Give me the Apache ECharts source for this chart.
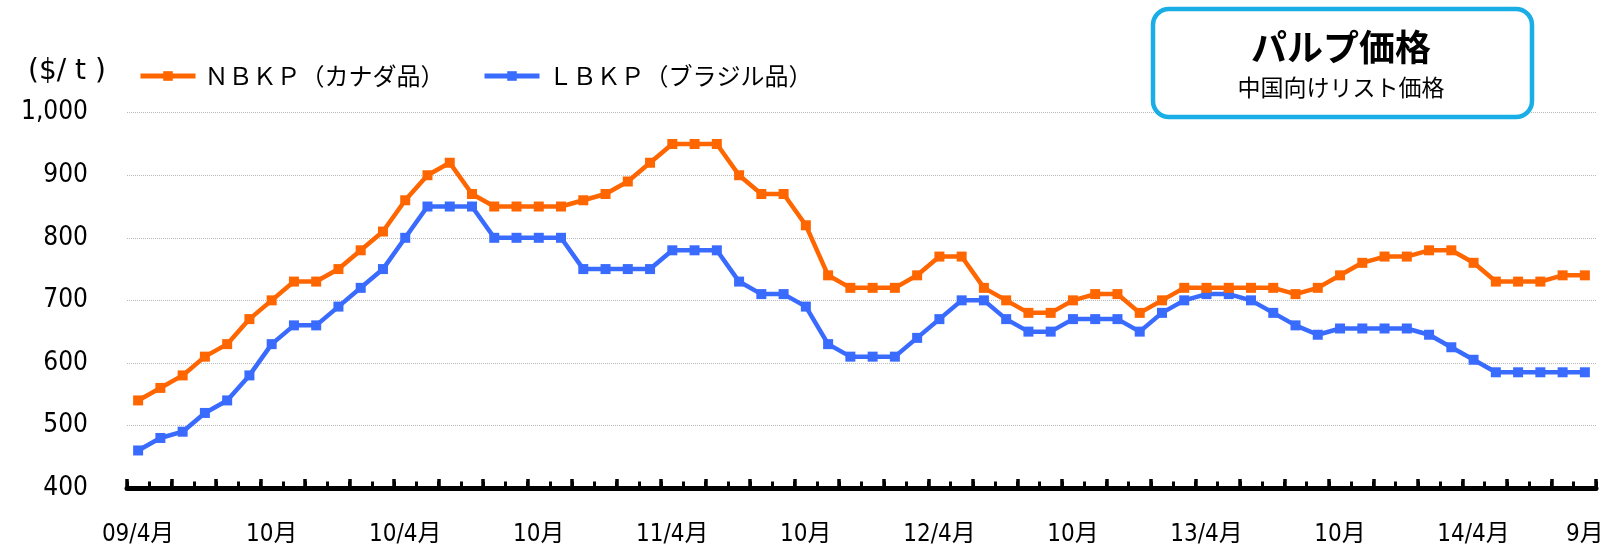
<!DOCTYPE html>
<html>
<head>
<meta charset="utf-8">
<script src="https://cdn.jsdelivr.net/npm/echarts@6/dist/echarts.min.js"></script>
<style>
html,body{margin:0;padding:0;background:#fff;}
#chart{width:1619px;height:549px;}
</style>
</head>
<body>
<div id="chart"></div>
<script>
const categories = [
 '09/04','09/05','09/06','09/07','09/08','09/09','09/10','09/11','09/12',
 '10/01','10/02','10/03','10/04','10/05','10/06','10/07','10/08','10/09','10/10','10/11','10/12',
 '11/01','11/02','11/03','11/04','11/05','11/06','11/07','11/08','11/09','11/10','11/11','11/12',
 '12/01','12/02','12/03','12/04','12/05','12/06','12/07','12/08','12/09','12/10','12/11','12/12',
 '13/01','13/02','13/03','13/04','13/05','13/06','13/07','13/08','13/09','13/10','13/11','13/12',
 '14/01','14/02','14/03','14/04','14/05','14/06','14/07','14/08','14/09'
];
const nbkp = [540,560,580,610,630,670,700,730,730,750,780,810,
  860,900,920,870,850,850,
  850,850,860,870,890,920,950,950,950,900,870,870,820,740,720,720,720,740,770,770,720,700,680,680,700,710,
  710,680,700,720,720,720,720,720,710,720,740,760,770,770,780,780,760,730,730,730,740,740];
const lbkp = [460,480,490,520,540,580,630,660,660,690,720,750,800,
  850,850,850,800,800,
  800,800,750,750,750,750,780,780,780,730,710,710,690,630,610,610,610,640,670,700,700,670,650,650,670,670,
  670,650,680,700,710,710,700,680,660,645,655,655,655,655,645,625,605,585,585,585,585,585];
const tickIndex = [0,6,12,18,24,30,36,42,48,54,60,65];
const tickLabels = ['09/4月','10月','10/4月','10月','11/4月','10月','12/4月','10月','13/4月','10月','14/4月','9月'];
const yTicks = {min:400, max:1000, interval:100};
const seriesNames = ['ＮＢＫＰ（カナダ品）','ＬＢＫＰ（ブラジル品）'];
const unitLabel = '($/ t )';
const titleMain = 'パルプ価格';
const titleSub = '中国向けリスト価格';

const ORANGE = '#FF6600';
const BLUE = '#3A6BFF';
const NUMFONT = "'DejaVu Sans Condensed', 'DejaVu Sans', 'Noto Sans CJK JP', sans-serif";
const JPFONT = "'Noto Sans CJK JP', sans-serif";

const chart = echarts.init(document.getElementById('chart'), null, {renderer:'canvas'});
const labelMap = {};
tickIndex.forEach((idx, k) => { labelMap[idx] = tickLabels[k]; });

function legendFor(name, left) {
  return {
    data:[name], left:left, top:64, padding:0, itemWidth:55, itemHeight:12, itemGap:0,
    lineStyle:{width:5},
    textStyle:{fontFamily:JPFONT, fontSize:24, color:'#000', padding:[0,0,0,4]}
  };
}

const option = {
  animation: false,
  backgroundColor: '#fff',
  grid: {left:127, right:23, top:112.7, bottom:61, containLabel:false},
  legend: [legendFor(seriesNames[0], 138), legendFor(seriesNames[1], 482)],
  xAxis: [
    {
      type:'category', data:categories, boundaryGap:true, position:'bottom',
      axisLine:{show:true, lineStyle:{color:'#000', width:5}},
      axisTick:{show:true, interval:0, inside:true, length:6.5, lineStyle:{color:'#000', width:3}},
      axisLabel:{
        show:true, interval:(i)=> labelMap[i] !== undefined,
        formatter:(v, i)=> labelMap[i] !== undefined ? labelMap[i] : '',
        margin:35, fontFamily:NUMFONT, fontSize:24, color:'#000'
      },
      splitLine:{show:false}
    },
    {
      type:'category', data:categories, boundaryGap:true, position:'bottom', gridIndex:0,
      axisLine:{show:false},
      axisTick:{show:true, interval:1, inside:true, length:9, lineStyle:{color:'#000', width:3.5}},
      axisLabel:{show:false},
      splitLine:{show:false}
    }
  ],
  yAxis: {
    type:'value', min:yTicks.min, max:yTicks.max, interval:yTicks.interval,
    axisLine:{show:false}, axisTick:{show:false},
    axisLabel:{
      margin:39, fontFamily:NUMFONT, fontSize:26, color:'#000',
      padding:[0,0,8,0],
      formatter:(v)=> v.toLocaleString('en-US')
    },
    splitLine:{show:true, lineStyle:{color:'#b8b8b8', width:1, type:'dotted'}}
  },
  series: [
    {name:seriesNames[0], type:'line', data:nbkp, xAxisIndex:0,
     symbol:'rect', symbolSize:10, showAllSymbol:true,
     lineStyle:{color:ORANGE, width:4.5}, itemStyle:{color:ORANGE}, z:3},
    {name:seriesNames[1], type:'line', data:lbkp, xAxisIndex:0,
     symbol:'rect', symbolSize:10, showAllSymbol:true,
     lineStyle:{color:BLUE, width:4.5}, itemStyle:{color:BLUE}, z:2}
  ],
  graphic: [
    {type:'text', left:28, top:58, z:10,
     style:{text:unitLabel, font:"28px 'DejaVu Sans', sans-serif", fill:'#000'}},
    {type:'rect', shape:{x:1153, y:9, width:379, height:108, r:16}, z:10,
     style:{fill:'#fff', stroke:'#1AAEE6', lineWidth:4.5}},
    {type:'text', x:1341, y:47, z:11,
     style:{text:titleMain, font:"bold 36px 'Noto Sans CJK JP', sans-serif", fill:'#000', align:'center', verticalAlign:'middle'}},
    {type:'text', x:1341, y:87, z:11,
     style:{text:titleSub, font:"23px 'Noto Sans CJK JP', sans-serif", fill:'#000', align:'center', verticalAlign:'middle'}}
  ]
};
chart.setOption(option);
</script>
</body>
</html>
